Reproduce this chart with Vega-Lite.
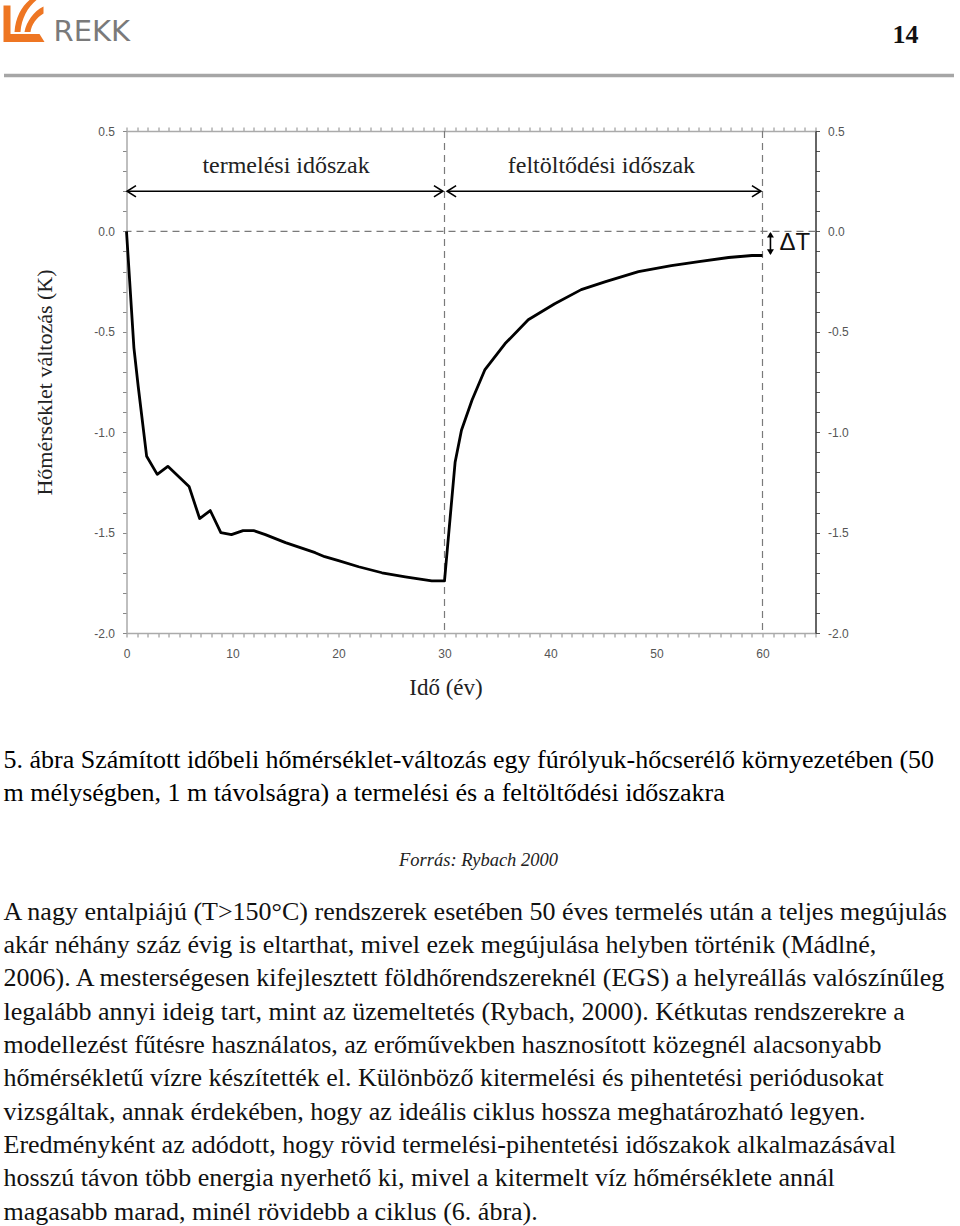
{
  "$schema": "https://vega.github.io/schema/vega-lite/v6.json",
  "background": "white",
  "padding": {"left": 3.5, "top": 0, "right": 4, "bottom": 0},
  "bounds": "flush",
  "spacing": 56,
  "config": {"view": {"stroke": null}},
  "vconcat": [
    {
      "width": 827,
      "height": 75,
      "layer": [
        {
          "data": {"values": [{"name": "REKK logo"}]},
          "mark": {"type": "point", "shape": "M0,-3.2 L0.7,-3.2 L0.7,-0.35 L3.6,-0.35 L4.1,0.45 L0,0.45 Z M1.1,-0.55 C1.2,-2.0 1.8,-3.1 2.6,-3.75 L3.3,-3.75 C2.4,-3.0 1.8,-1.9 1.7,-0.55 Z M2.1,-0.55 C2.3,-1.6 3.0,-2.6 4.0,-3.1 L4.0,-2.4 C3.3,-2.0 2.8,-1.3 2.7,-0.55 Z", "size": 400, "filled": true, "color": "#EE7623", "opacity": 1, "strokeWidth": 0},
          "encoding": {
            "x": {"datum": "start", "type": "nominal", "scale": {"type": "point", "domain": ["start", "end"], "range": [-123, 827], "padding": 0}, "axis": {"orient": "bottom", "domainColor": "#a6a6a6", "domainWidth": 3.5, "ticks": false, "labels": false, "title": null, "grid": false}}
          }
        },
        {
          "data": {"values": [{"label": "REKK"}]},
          "mark": {"type": "text", "align": "left", "baseline": "middle", "dx": 50, "dy": -6, "font": "DejaVu Sans", "fontSize": 29, "color": "#7a7a7a"},
          "encoding": {
            "x": {"datum": "start", "type": "nominal", "scale": {"type": "point", "domain": ["start", "end"], "range": [-123, 827], "padding": 0}, "axis": {"orient": "bottom", "domainColor": "#a6a6a6", "domainWidth": 3.5, "ticks": false, "labels": false, "title": null, "grid": false}},
            "text": {"field": "label"}
          }
        },
        {
          "data": {"values": [{"label": "14"}]},
          "mark": {"type": "text", "align": "right", "baseline": "middle", "dx": -35, "dy": -3, "font": "Liberation Serif", "fontSize": 26, "fontWeight": "bold", "color": "#111111"},
          "encoding": {
            "x": {"datum": "end", "type": "nominal", "scale": {"type": "point", "domain": ["start", "end"], "range": [-123, 827], "padding": 0}, "axis": {"orient": "bottom", "domainColor": "#a6a6a6", "domainWidth": 3.5, "ticks": false, "labels": false, "title": null, "grid": false}},
            "text": {"field": "label"}
          }
        }
      ]
    },
    {
      "width": 689,
      "height": 502,
      "resolve": {"axis": {"x": "independent", "y": "independent"}},
      "layer": [
        {
          "data": {"values": [{"t": 30}, {"t": 60}]},
          "mark": {"type": "rule", "color": "#7a7a7a", "strokeDash": [7, 5], "strokeWidth": 1.2},
          "encoding": {
            "x": {"field": "t", "type": "quantitative", "scale": {"domain": [0, 65], "nice": false, "zero": false},
              "axis": {"orient": "top", "values": [0,1,2,3,4,5,6,7,8,9,10,11,12,13,14,15,16,17,18,19,20,21,22,23,24,25,26,27,28,29,30,31,32,33,34,35,36,37,38,39,40,41,42,43,44,45,46,47,48,49,50,51,52,53,54,55,56,57,58,59,60,61,62,63,64,65], "labels": false, "title": null, "grid": false, "tickSize": 4, "tickColor": "#888888", "domainColor": "#aaaaaa", "domainWidth": 1.5}}
          }
        },
        {
          "data": {"values": [{"dT": 0}]},
          "mark": {"type": "rule", "color": "#7a7a7a", "strokeDash": [7, 5], "strokeWidth": 1.2},
          "encoding": {
            "y": {"field": "dT", "type": "quantitative", "scale": {"domain": [-2, 0.5], "nice": false, "zero": false},
              "axis": {"orient": "right", "values": [-2,-1.9,-1.8,-1.7,-1.6,-1.5,-1.4,-1.3,-1.2,-1.1,-1,-0.9,-0.8,-0.7,-0.6,-0.5,-0.4,-0.3,-0.2,-0.1,0,0.1,0.2,0.3,0.4,0.5], "labelExpr": "abs(datum.value * 2 - round(datum.value * 2)) < 0.01 ? replace(format(datum.value, '.1f'), '\u2212', '-') : ''", "title": null, "grid": false, "tickSize": 4, "tickColor": "#555555", "domainColor": "#333333", "domainWidth": 1.5, "labelFont": "Liberation Sans", "labelFontSize": 12, "labelColor": "#555555", "labelPadding": 8, "labelOverlap": false, "labelFlush": false}}
          }
        },
        {
          "data": {"values": [
            {"t": 0, "dT": 0}, {"t": 0.7, "dT": -0.58}, {"t": 1.1, "dT": -0.77}, {"t": 1.9, "dT": -1.12}, {"t": 2.9, "dT": -1.21}, {"t": 3.9, "dT": -1.17}, {"t": 5.9, "dT": -1.27}, {"t": 6.9, "dT": -1.43}, {"t": 7.9, "dT": -1.39}, {"t": 8.9, "dT": -1.5}, {"t": 9.9, "dT": -1.51}, {"t": 11, "dT": -1.49}, {"t": 12, "dT": -1.49}, {"t": 13.1, "dT": -1.51}, {"t": 15, "dT": -1.55}, {"t": 17.8, "dT": -1.6}, {"t": 18.7, "dT": -1.62}, {"t": 20, "dT": -1.64}, {"t": 21.9, "dT": -1.67}, {"t": 24.1, "dT": -1.7}, {"t": 26.3, "dT": -1.72}, {"t": 28.8, "dT": -1.74}, {"t": 30, "dT": -1.74},
            {"t": 31, "dT": -1.15}, {"t": 31.6, "dT": -0.99}, {"t": 32.6, "dT": -0.84}, {"t": 33.8, "dT": -0.69}, {"t": 35.7, "dT": -0.56}, {"t": 37.9, "dT": -0.44}, {"t": 40.4, "dT": -0.36}, {"t": 42.9, "dT": -0.29}, {"t": 45.2, "dT": -0.25}, {"t": 48.3, "dT": -0.2}, {"t": 51.4, "dT": -0.17}, {"t": 54, "dT": -0.15}, {"t": 56.8, "dT": -0.13}, {"t": 59, "dT": -0.12}, {"t": 60, "dT": -0.12}
          ]},
          "mark": {"type": "line", "color": "#000000", "strokeWidth": 2.8, "strokeJoin": "round"},
          "encoding": {
            "x": {"field": "t", "type": "quantitative", "scale": {"domain": [0, 65], "nice": false, "zero": false},
              "axis": {"orient": "bottom", "values": [0,1,2,3,4,5,6,7,8,9,10,11,12,13,14,15,16,17,18,19,20,21,22,23,24,25,26,27,28,29,30,31,32,33,34,35,36,37,38,39,40,41,42,43,44,45,46,47,48,49,50,51,52,53,54,55,56,57,58,59,60,61,62,63,64,65], "labelExpr": "datum.value % 10 == 0 && datum.value <= 60 ? datum.label : ''", "title": "Idő (év)", "titleFont": "Liberation Serif", "titleFontSize": 23, "titleFontWeight": "normal", "titleColor": "#222222", "titlePadding": 17, "titleX": 319, "titleAlign": "center", "grid": false, "tickSize": 4, "tickColor": "#888888", "domainColor": "#aaaaaa", "domainWidth": 1.5, "labelFont": "Liberation Sans", "labelFontSize": 12, "labelColor": "#555555", "labelPadding": 11, "labelOverlap": false, "labelFlush": false}},
            "y": {"field": "dT", "type": "quantitative", "scale": {"domain": [-2, 0.5], "nice": false, "zero": false},
              "axis": {"orient": "left", "values": [-2,-1.9,-1.8,-1.7,-1.6,-1.5,-1.4,-1.3,-1.2,-1.1,-1,-0.9,-0.8,-0.7,-0.6,-0.5,-0.4,-0.3,-0.2,-0.1,0,0.1,0.2,0.3,0.4,0.5], "labelExpr": "abs(datum.value * 2 - round(datum.value * 2)) < 0.01 ? replace(format(datum.value, '.1f'), '\u2212', '-') : ''", "title": "Hőmérséklet változás (K)", "titleFont": "Liberation Serif", "titleFontSize": 22, "titleFontWeight": "normal", "titleColor": "#222222", "titlePadding": 37, "grid": false, "tickSize": 4, "tickColor": "#888888", "domainColor": "#aaaaaa", "domainWidth": 1.5, "labelFont": "Liberation Sans", "labelFontSize": 12, "labelColor": "#555555", "labelPadding": 8, "labelOverlap": false, "labelFlush": false}}
          }
        },
        {
          "data": {"values": [{"t": 0.1, "t2": 29.8, "v": 0.2}, {"t": 30.3, "t2": 59.8, "v": 0.2}]},
          "mark": {"type": "rule", "color": "#000000", "strokeWidth": 1.6},
          "encoding": {
            "x": {"field": "t", "type": "quantitative", "scale": {"domain": [0, 65], "nice": false, "zero": false}, "axis": null},
            "x2": {"field": "t2"},
            "y": {"field": "v", "type": "quantitative", "scale": {"domain": [-2, 0.5], "nice": false, "zero": false}, "axis": null}
          }
        },
        {
          "data": {"values": [{"t": 0.05, "v": 0.2, "dir": "left"}, {"t": 29.85, "v": 0.2, "dir": "right"}, {"t": 30.25, "v": 0.2, "dir": "left"}, {"t": 59.85, "v": 0.2, "dir": "right"}]},
          "mark": {"type": "point", "filled": false, "color": "#000000", "strokeWidth": 1.6, "size": 125, "opacity": 1},
          "encoding": {
            "x": {"field": "t", "type": "quantitative", "scale": {"domain": [0, 65], "nice": false, "zero": false}, "axis": null},
            "y": {"field": "v", "type": "quantitative", "scale": {"domain": [-2, 0.5], "nice": false, "zero": false}, "axis": null},
            "shape": {"field": "dir", "type": "nominal", "scale": {"domain": ["left", "right", "up", "down"], "range": ["M1.6,-1 L0,0 L1.6,1", "M-1.6,-1 L0,0 L-1.6,1", "M-1,1.6 L0,0 L1,1.6 Z", "M-1,-1.6 L0,0 L1,-1.6 Z"]}, "legend": null}
          }
        },
        {
          "data": {"values": [{"t": 60.75, "v": -0.01, "v2": -0.11}]},
          "mark": {"type": "rule", "color": "#000000", "strokeWidth": 1.6},
          "encoding": {
            "x": {"field": "t", "type": "quantitative", "scale": {"domain": [0, 65], "nice": false, "zero": false}, "axis": null},
            "y": {"field": "v", "type": "quantitative", "scale": {"domain": [-2, 0.5], "nice": false, "zero": false}, "axis": null},
            "y2": {"field": "v2"}
          }
        },
        {
          "data": {"values": [{"t": 60.75, "v": -0.003, "dir": "up"}, {"t": 60.75, "v": -0.117, "dir": "down"}]},
          "mark": {"type": "point", "filled": true, "color": "#000000", "size": 49, "opacity": 1, "strokeWidth": 0},
          "encoding": {
            "x": {"field": "t", "type": "quantitative", "scale": {"domain": [0, 65], "nice": false, "zero": false}, "axis": null},
            "y": {"field": "v", "type": "quantitative", "scale": {"domain": [-2, 0.5], "nice": false, "zero": false}, "axis": null},
            "shape": {"field": "dir", "type": "nominal", "scale": {"domain": ["left", "right", "up", "down"], "range": ["M1.6,-1 L0,0 L1.6,1", "M-1.6,-1 L0,0 L-1.6,1", "M-1,1.6 L0,0 L1,1.6 Z", "M-1,-1.6 L0,0 L1,-1.6 Z"]}, "legend": null}
          }
        },
        {
          "data": {"values": [{"t": 15.05, "v": 0.293, "label": "termelési időszak"}, {"t": 44.8, "v": 0.293, "label": "feltöltődési időszak"}]},
          "mark": {"type": "text", "align": "center", "baseline": "alphabetic", "font": "Liberation Serif", "fontSize": 24, "color": "#222222"},
          "encoding": {
            "x": {"field": "t", "type": "quantitative", "scale": {"domain": [0, 65], "nice": false, "zero": false}, "axis": null},
            "y": {"field": "v", "type": "quantitative", "scale": {"domain": [-2, 0.5], "nice": false, "zero": false}, "axis": null},
            "text": {"field": "label"}
          }
        },
        {
          "data": {"values": [{"t": 61.6, "v": -0.057, "label": "ΔT"}]},
          "mark": {"type": "text", "align": "left", "baseline": "middle", "font": "Liberation Sans", "fontSize": 24, "color": "#111111"},
          "encoding": {
            "x": {"field": "t", "type": "quantitative", "scale": {"domain": [0, 65], "nice": false, "zero": false}, "axis": null},
            "y": {"field": "v", "type": "quantitative", "scale": {"domain": [-2, 0.5], "nice": false, "zero": false}, "axis": null},
            "text": {"field": "label"}
          }
        }
      ]
    },
    {
      "width": 827,
      "height": 537,
      "resolve": {"scale": {"y": "independent"}},
      "layer": [
        {
          "data": {"values": [
            {"line": 1, "text": "5. ábra Számított időbeli hőmérséklet-változás egy fúrólyuk-hőcserélő környezetében (50"},
            {"line": 2, "text": "m mélységben, 1 m távolságra) a termelési és a feltöltődési időszakra"}
          ]},
          "mark": {"type": "text", "align": "left", "baseline": "alphabetic", "font": "Liberation Serif", "fontSize": 26, "color": "#000000"},
          "encoding": {
            "x": {"datum": "start", "type": "nominal", "scale": {"type": "point", "domain": ["start", "center", "end"], "range": [-123, 827], "padding": 0}, "axis": null},
            "y": {"field": "line", "type": "ordinal", "scale": {"type": "point", "range": [79, 112], "padding": 0, "round": false}, "axis": null},
            "text": {"field": "text"}
          }
        },
        {
          "data": {"values": [{"line": 1, "text": "Forrás: Rybach 2000"}]},
          "mark": {"type": "text", "align": "center", "baseline": "alphabetic", "font": "Liberation Serif", "fontSize": 18.5, "fontStyle": "italic", "color": "#222222"},
          "encoding": {
            "x": {"datum": "center", "type": "nominal", "scale": {"type": "point", "domain": ["start", "center", "end"], "range": [-123, 827], "padding": 0}, "axis": null},
            "y": {"field": "line", "type": "ordinal", "scale": {"type": "point", "range": [177, 177], "padding": 0, "round": false}, "axis": null},
            "text": {"field": "text"}
          }
        },
        {
          "data": {"values": [
            {"line": 1, "text": "A nagy entalpiájú (T>150°C) rendszerek esetében 50 éves termelés után a teljes megújulás"},
            {"line": 2, "text": "akár néhány száz évig is eltarthat, mivel ezek megújulása helyben történik (Mádlné,"},
            {"line": 3, "text": "2006). A mesterségesen kifejlesztett földhőrendszereknél (EGS) a helyreállás valószínűleg"},
            {"line": 4, "text": "legalább annyi ideig tart, mint az üzemeltetés (Rybach, 2000). Kétkutas rendszerekre a"},
            {"line": 5, "text": "modellezést fűtésre használatos, az erőművekben hasznosított közegnél alacsonyabb"},
            {"line": 6, "text": "hőmérsékletű vízre készítették el. Különböző kitermelési és pihentetési periódusokat"},
            {"line": 7, "text": "vizsgáltak, annak érdekében, hogy az ideális ciklus hossza meghatározható legyen."},
            {"line": 8, "text": "Eredményként az adódott, hogy rövid termelési-pihentetési időszakok alkalmazásával"},
            {"line": 9, "text": "hosszú távon több energia nyerhető ki, mivel a kitermelt víz hőmérséklete annál"},
            {"line": 10, "text": "magasabb marad, minél rövidebb a ciklus (6. ábra)."}
          ]},
          "mark": {"type": "text", "align": "left", "baseline": "alphabetic", "font": "Liberation Serif", "fontSize": 26, "color": "#111111"},
          "encoding": {
            "x": {"datum": "start", "type": "nominal", "scale": {"type": "point", "domain": ["start", "center", "end"], "range": [-123, 827], "padding": 0}, "axis": null},
            "y": {"field": "line", "type": "ordinal", "scale": {"type": "point", "range": [230.5, 530.5], "padding": 0, "round": false}, "axis": null},
            "text": {"field": "text"}
          }
        }
      ]
    }
  ]
}
